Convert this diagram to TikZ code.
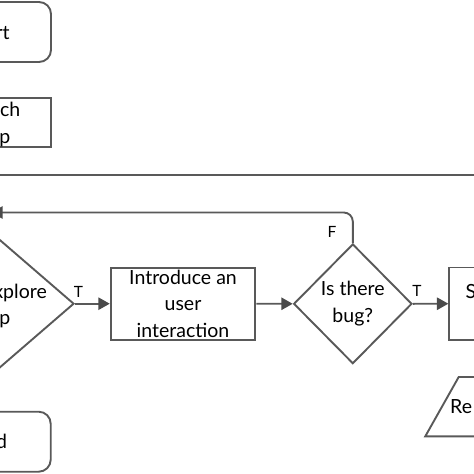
\documentclass[tikz,border=0pt]{standalone}
\usepackage{fontspec}
\setmainfont{Lato}
\usetikzlibrary{arrows.meta,shapes.geometric}
\definecolor{ln}{HTML}{595959}
\definecolor{ah}{HTML}{4A4A4A}
\tikzset{
  every node/.style={font=\fontsize{19.5}{26.5}\selectfont, text=black},
  boxr/.style={draw=ln, line width=1.9pt, rounded corners=12pt, inner sep=0pt},
  boxs/.style={draw=ln, line width=1.9pt, inner sep=0pt},
  dia/.style={draw=ln, line width=1.9pt, diamond, inner sep=0pt},
  frag/.style={inner sep=0pt},
  lbl/.style={font=\fontsize{15.5}{17}\selectfont, inner sep=0pt},
  conn/.style={draw=ln, line width=1.9pt, -{Triangle[length=11.4pt,width=12.3pt,fill=ah,color=ah]}},
  sep/.style={draw=ln, line width=1.6pt}
}
\begin{document}
\begin{tikzpicture}[x=1pt,y=-1pt]
\useasboundingbox (0,0) rectangle (474,474);
\clip (0,0) rectangle (474,474);
% swimlane separator
\coordinate (sepL) at (-5,175);
\coordinate (sepR) at (480,175);
\draw[sep] (sepL) -- (sepR);
% start
\node[boxr, minimum width=98pt, minimum height=60pt] (start) at (2,32) {};
\node[frag, anchor=base east] (startt) at (9.8,39.5) {rt};
% launch
\node[boxs, minimum width=100pt, minimum height=49pt] (launch) at (1,122.5) {};
\node[frag, anchor=base east] (launch1) at (20.5,116.5) {ch};
\node[frag, anchor=base east] (launch2) at (10.5,143.5) {p};
% explore
\node[dia, minimum width=168pt, minimum height=145.2pt] (explore) at (-10,303.7) {};
\node[frag, anchor=base east] (explore1) at (47,298) {xplore};
\node[frag, anchor=base east] (explore2) at (10.5,324) {p};
% introduce
\node[boxs, minimum width=144.6pt, minimum height=72pt, align=center] (intro) at (183,303.7) {Introduce an\\user\\interaction};
% bug
\node[dia, minimum width=118.3pt, minimum height=119.7pt] (bug) at (352.8,303.8) {};
\node[frag, align=center] (bugt) at (352.8,303.5) {Is there\\bug?};
% S box
\node[boxs, minimum width=100pt, minimum height=72.5pt] (sbox) at (499.3,303.7) {};
\node[frag, anchor=base west] (sboxt) at (465.5,298.5) {S};
% Re parallelogram
\coordinate (reTL) at (458.7,377);
\coordinate (reBL) at (425.3,436.3);
\coordinate (reTR) at (490,377);
\coordinate (reBR) at (490,436.3);
\draw[boxs] (reTR) -- (reTL) -- (reBL) -- (reBR);
\node[frag, anchor=west] (ret) at (450,407) {Re};
% end
\node[boxr, minimum width=98pt, minimum height=60pt] (endn) at (1.7,441.7) {};
\node[frag, anchor=base east] (endt) at (7.2,448.5) {d};
% connectors
\draw[conn] (explore.east) -- (intro.west);
\draw[conn] (intro.east) -- (bug.west);
\draw[conn] (bug.east) -- (sbox.west);
\coordinate (fb) at (-8.7,212.5);
\draw[conn, rounded corners=9pt] (bug.north) -- (bug.north |- fb) -- (fb);
% labels
\node[lbl] (t1) at (78.5,292) {T};
\node[lbl] (t2) at (417,291.3) {T};
\node[lbl] (f1) at (332,232) {F};
\end{tikzpicture}
\end{document}
